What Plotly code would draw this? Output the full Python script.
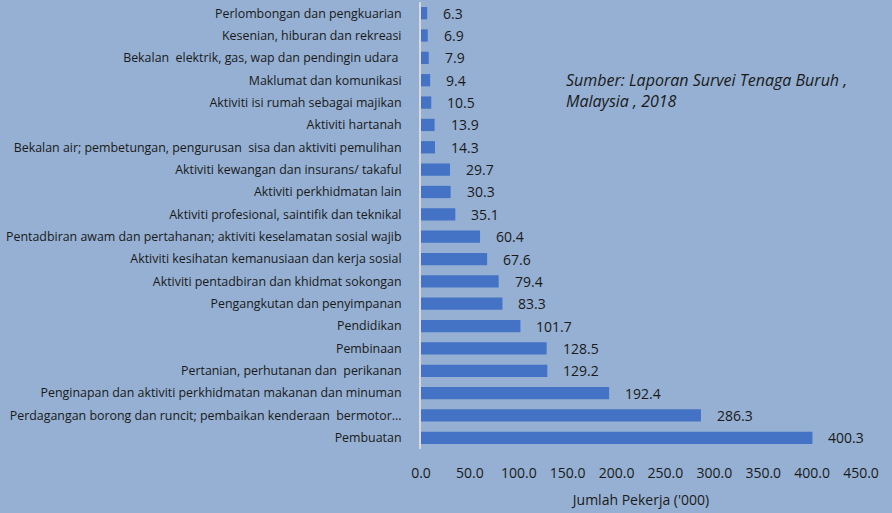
import plotly.graph_objects as go

categories = [
    "Pembuatan",
    "Perdagangan borong dan runcit; pembaikan kenderaan  bermotor...",
    "Penginapan dan aktiviti perkhidmatan makanan dan minuman",
    "Pertanian, perhutanan dan  perikanan",
    "Pembinaan",
    "Pendidikan",
    "Pengangkutan dan penyimpanan",
    "Aktiviti pentadbiran dan khidmat sokongan",
    "Aktiviti kesihatan kemanusiaan dan kerja sosial",
    "Pentadbiran awam dan pertahanan; aktiviti keselamatan sosial wajib",
    "Aktiviti profesional, saintifik dan teknikal",
    "Aktiviti perkhidmatan lain",
    "Aktiviti kewangan dan insurans/ takaful",
    "Bekalan air; pembetungan, pengurusan  sisa dan aktiviti pemulihan",
    "Aktiviti hartanah",
    "Aktiviti isi rumah sebagai majikan",
    "Maklumat dan komunikasi",
    "Bekalan  elektrik, gas, wap dan pendingin udara ",
    "Kesenian, hiburan dan rekreasi",
    "Perlombongan dan pengkuarian",
]
values = [400.3, 286.3, 192.4, 129.2, 128.5, 101.7, 83.3, 79.4, 67.6, 60.4,
          35.1, 30.3, 29.7, 14.3, 13.9, 10.5, 9.4, 7.9, 6.9, 6.3]
x_ticks = [0, 50, 100, 150, 200, 250, 300, 350, 400, 450]
x_title = "Jumlah Pekerja ('000)"
source_note = "<i>Sumber: Laporan Survei Tenaga Buruh ,<br>Malaysia , 2018</i>"

BG = "#95b0d2"
FONT = "Open Sans"
TXT = "#1a1a1a"

fig = go.Figure()
fig.add_trace(go.Bar(
    y=categories, x=values, orientation="h",
    marker=dict(color="#4472c4", line=dict(width=0)),
    hoverinfo="skip",
))

for c, v in zip(categories, values):
    fig.add_annotation(x=v, y=c, text=f"{v:.1f}", showarrow=False,
                       xanchor="left", yanchor="middle", xshift=14,
                       font=dict(family=FONT, size=14, color=TXT))

fig.add_annotation(xref="paper", yref="paper", x=(564 - 421) / 440, y=1 - (67 - 2) / 447,
                   text=source_note, showarrow=False, xanchor="left", yanchor="top",
                   align="left", font=dict(family=FONT, size=16, color=TXT))

fig.update_layout(
    width=892, height=513,
    margin=dict(l=421, r=31, t=2, b=64),
    paper_bgcolor=BG, plot_bgcolor=BG,
    bargap=0.45,
    showlegend=False,
    font=dict(family=FONT, color=TXT),
    xaxis=dict(range=[0, 450], tickvals=x_ticks,
               ticktext=[f"{t:.1f}" for t in x_ticks],
               showgrid=False, zeroline=False, showline=False,
               tickfont=dict(size=14, color=TXT), ticklabelstandoff=14,
               title=dict(text=x_title, font=dict(size=14, color=TXT), standoff=14)),
    yaxis=dict(showgrid=False, zeroline=False, showline=True,
               linecolor="#d9d9d9", linewidth=2,
               tickfont=dict(size=12.4, color=TXT), ticklabelstandoff=15,
               range=[-0.5, 19.5]),
)

fig.write_html("out.html")
